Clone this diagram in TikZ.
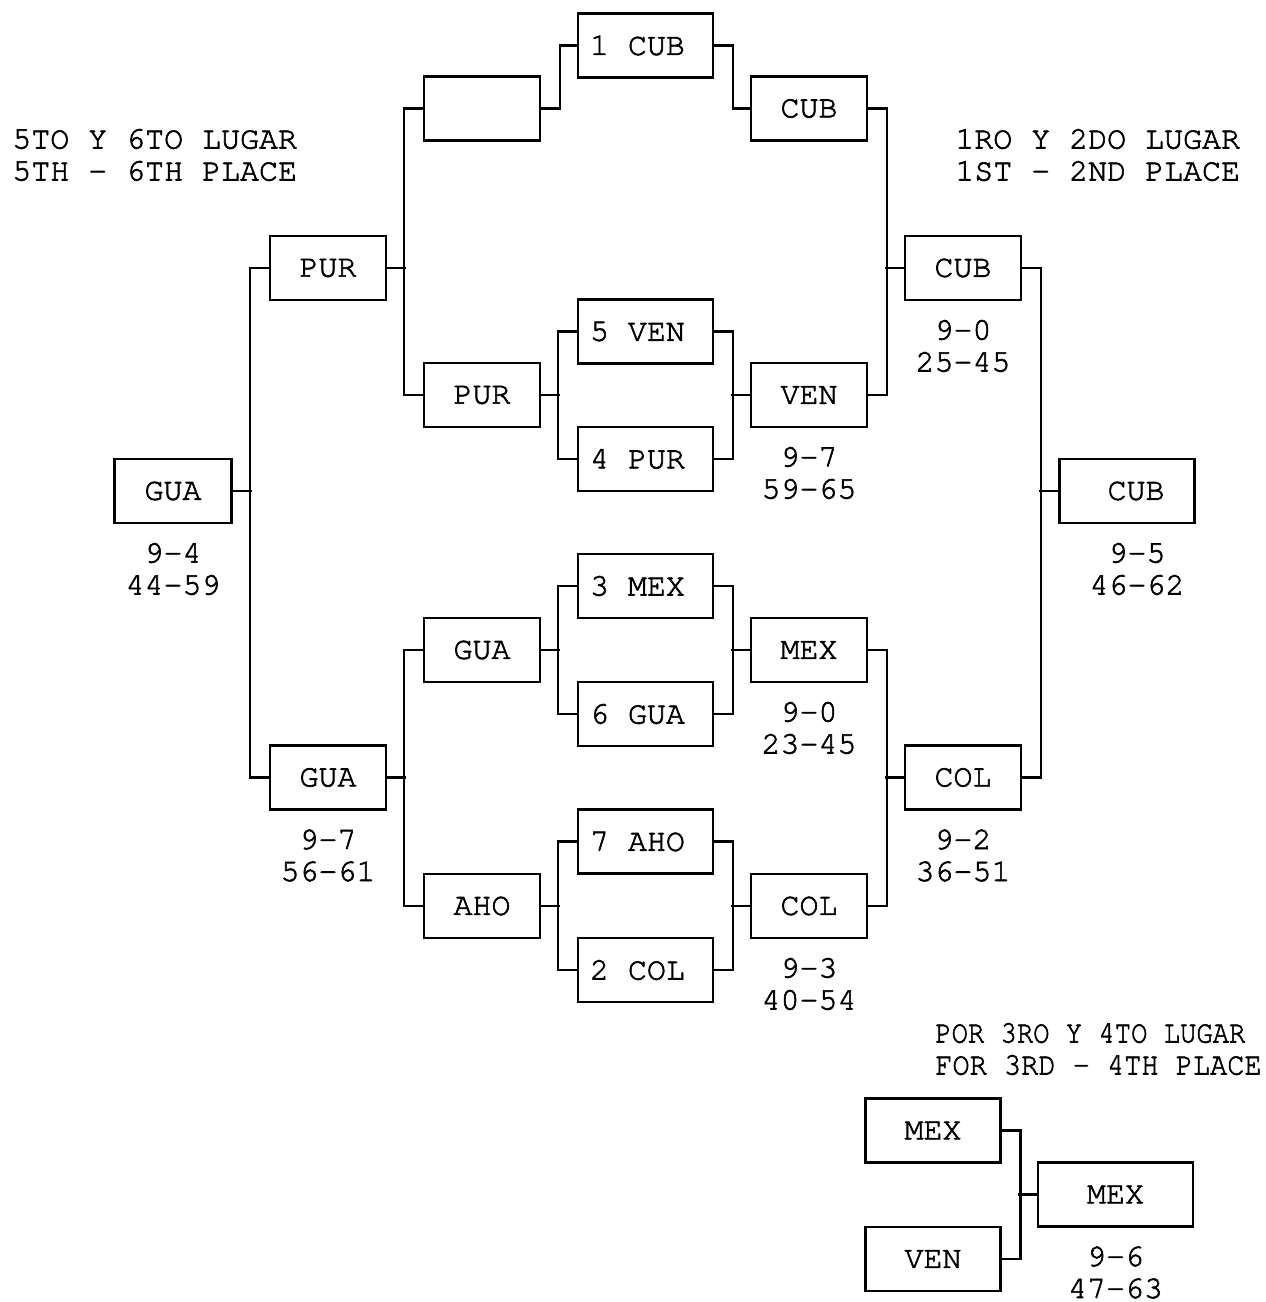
\documentclass[tikz,border=0pt]{standalone}
\usepackage{fontspec}
\newfontfamily\boardfont{texgyrecursor}[Extension=.otf, UprightFont=*-regular, FakeBold=2]
\usetikzlibrary{positioning}

\begin{document}
\begin{tikzpicture}[x=0.02cm, y=-0.02cm,
  font=\boardfont\fontsize{18}{18.2}\selectfont,
  team/.style={draw, line width=1.3pt, minimum width=2.32cm, minimum height=1.28cm, inner sep=0pt},
  seed/.style={team, text width=2.22cm, inner xsep=0.24cm, align=flush left},
  score/.style={align=center, inner sep=0pt},
  title/.style={anchor=west, align=left, inner sep=0pt},
  link/.style={line width=1.3pt}]

  % Fix the page size
  \useasboundingbox (0,0) rectangle (1266,1302);

  % Define gap from a box to its bracket line
  \def\gap{19}

  % Titles
  \node[title] (tlow) at (12,155) {5TO Y 6TO LUGAR\\5TH - 6TH PLACE};
  \node[title] (ttop) at (955,155) {1RO Y 2DO LUGAR\\1ST - 2ND PLACE};
  \node[title, xscale=0.86] (tmida) at (935,1033) {POR 3RO Y 4TO LUGAR};
  \node[title, xscale=0.905] (tmidb) at (935,1065) {FOR 3RD - 4TH PLACE};

  % Seeded teams
  \node[seed] (cub1) at (645.5,45.5) {1 CUB};
  \node[seed] (ven5) at (645.5,331.5) {5 VEN};
  \node[seed] (pur4) at (645.5,459) {4 PUR};
  \node[seed] (mex3) at (645.5,586) {3 MEX};
  \node[seed] (gua6) at (645.5,714) {6 GUA};
  \node[seed] (aho7) at (645.5,841.5) {7 AHO};
  \node[seed] (col2) at (645.5,970) {2 COL};

  % Losers side (5th - 6th place)
  \node[team] (emp) at (482,108.5) {};
  \node[team] (purC) at (482,395) {PUR};
  \node[team] (guaC) at (482,650) {GUA};
  \node[team] (ahoC) at (482,906) {AHO};
  \node[team] (purB) at (328,268) {PUR};
  \node[team] (guaB) at (328,777.5) {GUA};
  \node[team, minimum width=2.34cm] (guaA) at (173,491) {GUA};

  % Winners side (1st - 2nd place)
  \node[team] (cubE) at (809,108.5) {CUB};
  \node[team] (venE) at (809,395) {VEN};
  \node[team] (mexE) at (809,650) {MEX};
  \node[team] (colE) at (809,906) {COL};
  \node[team] (cubF) at (963,268) {CUB};
  \node[team] (colF) at (963,777.5) {COL};
  \node[team, text width=1.5cm, inner xsep=0.6cm, align=right] (cubG) at (1127,491) {CUB};

  % Third place
  \node[team, minimum width=2.7cm] (mexL) at (933,1130.5) {MEX};
  \node[team, minimum width=2.7cm] (venL) at (933,1259) {VEN};
  \node[team, minimum width=3.1cm] (mexW) at (1115.5,1194.5) {MEX};

  % Scores
  \node[score, below=0.37cm of guaA] (sguaA) {9-4\\44-59};
  \node[score, below=0.37cm of guaB] (sguaB) {9-7\\56-61};
  \node[score, below=0.37cm of venE] (svenE) {9-7\\59-65};
  \node[score, below=0.37cm of mexE] (smexE) {9-0\\23-45};
  \node[score, below=0.37cm of colE] (scolE) {9-3\\40-54};
  \node[score, below=0.37cm of cubF] (scubF) {9-0\\25-45};
  \node[score, below=0.37cm of colF] (scolF) {9-2\\36-51};
  \node[score, below=0.37cm of cubG, xshift=0.2cm] (scubG) {9-5\\46-62};
  \node[score, below=0.37cm of mexW] (smexW) {9-6\\47-63};

  % Join two teams on their right, winner to the right
  \foreach \a/\b/\w in {ven5/pur4/venE, mex3/gua6/mexE, aho7/col2/colE,
      cubE/venE/cubF, mexE/colE/colF, cubF/colF/cubG, mexL/venL/mexW} {
    \draw[link] (\a.east) -- ++(\gap,0) |- (\b.east);
    \draw[link] (\w.west) -- ++(-\gap,0);
  }

  % Join two teams on their left, winner to the left
  \foreach \a/\b/\w in {emp/purC/purB, purB/guaB/guaA, guaC/ahoC/guaB,
      ven5/pur4/purC, mex3/gua6/guaC, aho7/col2/ahoC} {
    \draw[link] (\a.west) -- ++(-\gap,0) |- (\b.west);
    \draw[link] (\w.east) -- ++(\gap,0);
  }

  % Bye for the top seed
  \draw[link] (emp.east) -- ++(\gap,0) |- (cub1.west);
  \draw[link] (cub1.east) -- ++(\gap,0) |- (cubE.west);

\end{tikzpicture}
\end{document}
